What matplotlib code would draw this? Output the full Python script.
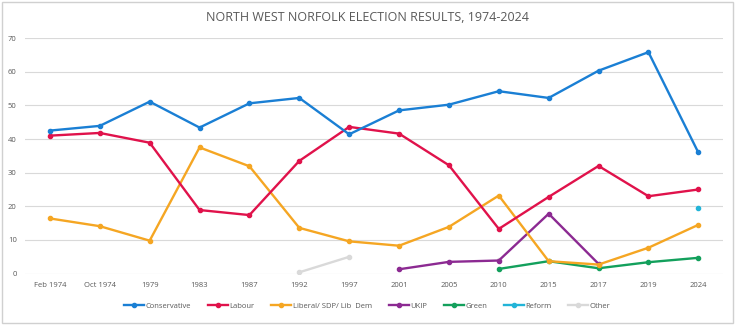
import numpy as np
import matplotlib.pyplot as plt
from matplotlib.patches import Rectangle

# election labels and vote shares (%)
elections = ['Feb 1974', 'Oct 1974', '1979', '1983', '1987', '1992', '1997',
             '2001', '2005', '2010', '2015', '2017', '2019', '2024']
nan = np.nan
conservative = [42.5, 43.9, 51.1, 43.4, 50.6, 52.2, 41.4, 48.5, 50.2, 54.2, 52.2, 60.3, 65.8, 36.0]
labour = [41.0, 41.8, 38.9, 18.9, 17.4, 33.5, 43.6, 41.6, 32.2, 13.3, 22.8, 32.0, 23.0, 25.0]
libdem = [16.4, 14.1, 9.8, 37.5, 31.9, 13.6, 9.6, 8.3, 13.9, 23.2, 3.7, 2.7, 7.7, 14.5]
ukip = [nan, nan, nan, nan, nan, nan, nan, 1.3, 3.5, 3.9, 17.8, 2.9, nan, nan]
green = [nan, nan, nan, nan, nan, nan, nan, nan, nan, 1.4, 3.7, 1.6, 3.4, 4.7]
reform = [nan, nan, nan, nan, nan, nan, nan, nan, nan, nan, nan, nan, nan, 19.4]
other = [nan, nan, nan, nan, nan, 0.4, 5.0, nan, nan, 4.0, nan, nan, nan, nan]

series = [
    ('Conservative', conservative, '#1a7fd4'),
    ('Labour', labour, '#e0124b'),
    ('Liberal/ SDP/ Lib  Dem', libdem, '#f5a623'),
    ('UKIP', ukip, '#8c2a92'),
    ('Green', green, '#13a05c'),
    ('Reform', reform, '#22b4d8'),
    ('Other', other, '#d9d9d9'),
]

plt.rcParams['font.family'] = ['Open Sans', 'DejaVu Sans']

fig = plt.figure(figsize=(7.35, 3.25), dpi=100)
ax = fig.add_axes([0.034, 0.158, 0.950, 0.725])

x = np.arange(len(elections))
# draw back to front so conservative ends up on top
for name, vals, col in reversed(series):
    ax.plot(x, vals, color=col, lw=1.7, marker='o', ms=3, label=name,
            solid_joinstyle='round')

ax.set_xlim(-0.5, len(elections) - 0.5)
ax.set_ylim(0, 70)
ax.set_yticks(range(0, 71, 10))
ax.set_xticks(x)
ax.set_xticklabels(elections)
ax.grid(axis='y', color='#d9d9d9', lw=0.8)
ax.set_axisbelow(True)
for s in ax.spines.values():
    s.set_visible(False)
ax.tick_params(length=0, labelsize=5.5, colors='#595959', pad=6)

fig.text(0.5, 0.945, 'NORTH WEST NORFOLK ELECTION RESULTS, 1974-2024',
         ha='center', va='center', fontsize=9, color='#595959')

handles, labels = ax.get_legend_handles_labels()
leg = fig.legend(handles[::-1], labels[::-1], loc='center', bbox_to_anchor=(0.5, 0.058),
                 ncol=7, frameon=False, fontsize=5.5, handlelength=2.6,
                 handletextpad=0.2, columnspacing=2.2, labelcolor='#595959')

fig.patches.append(Rectangle((0.003, 0.006), 0.994, 0.988, transform=fig.transFigure,
                             fill=False, edgecolor='#d0d0d0', lw=1))

fig.savefig('out.png', dpi=100)
